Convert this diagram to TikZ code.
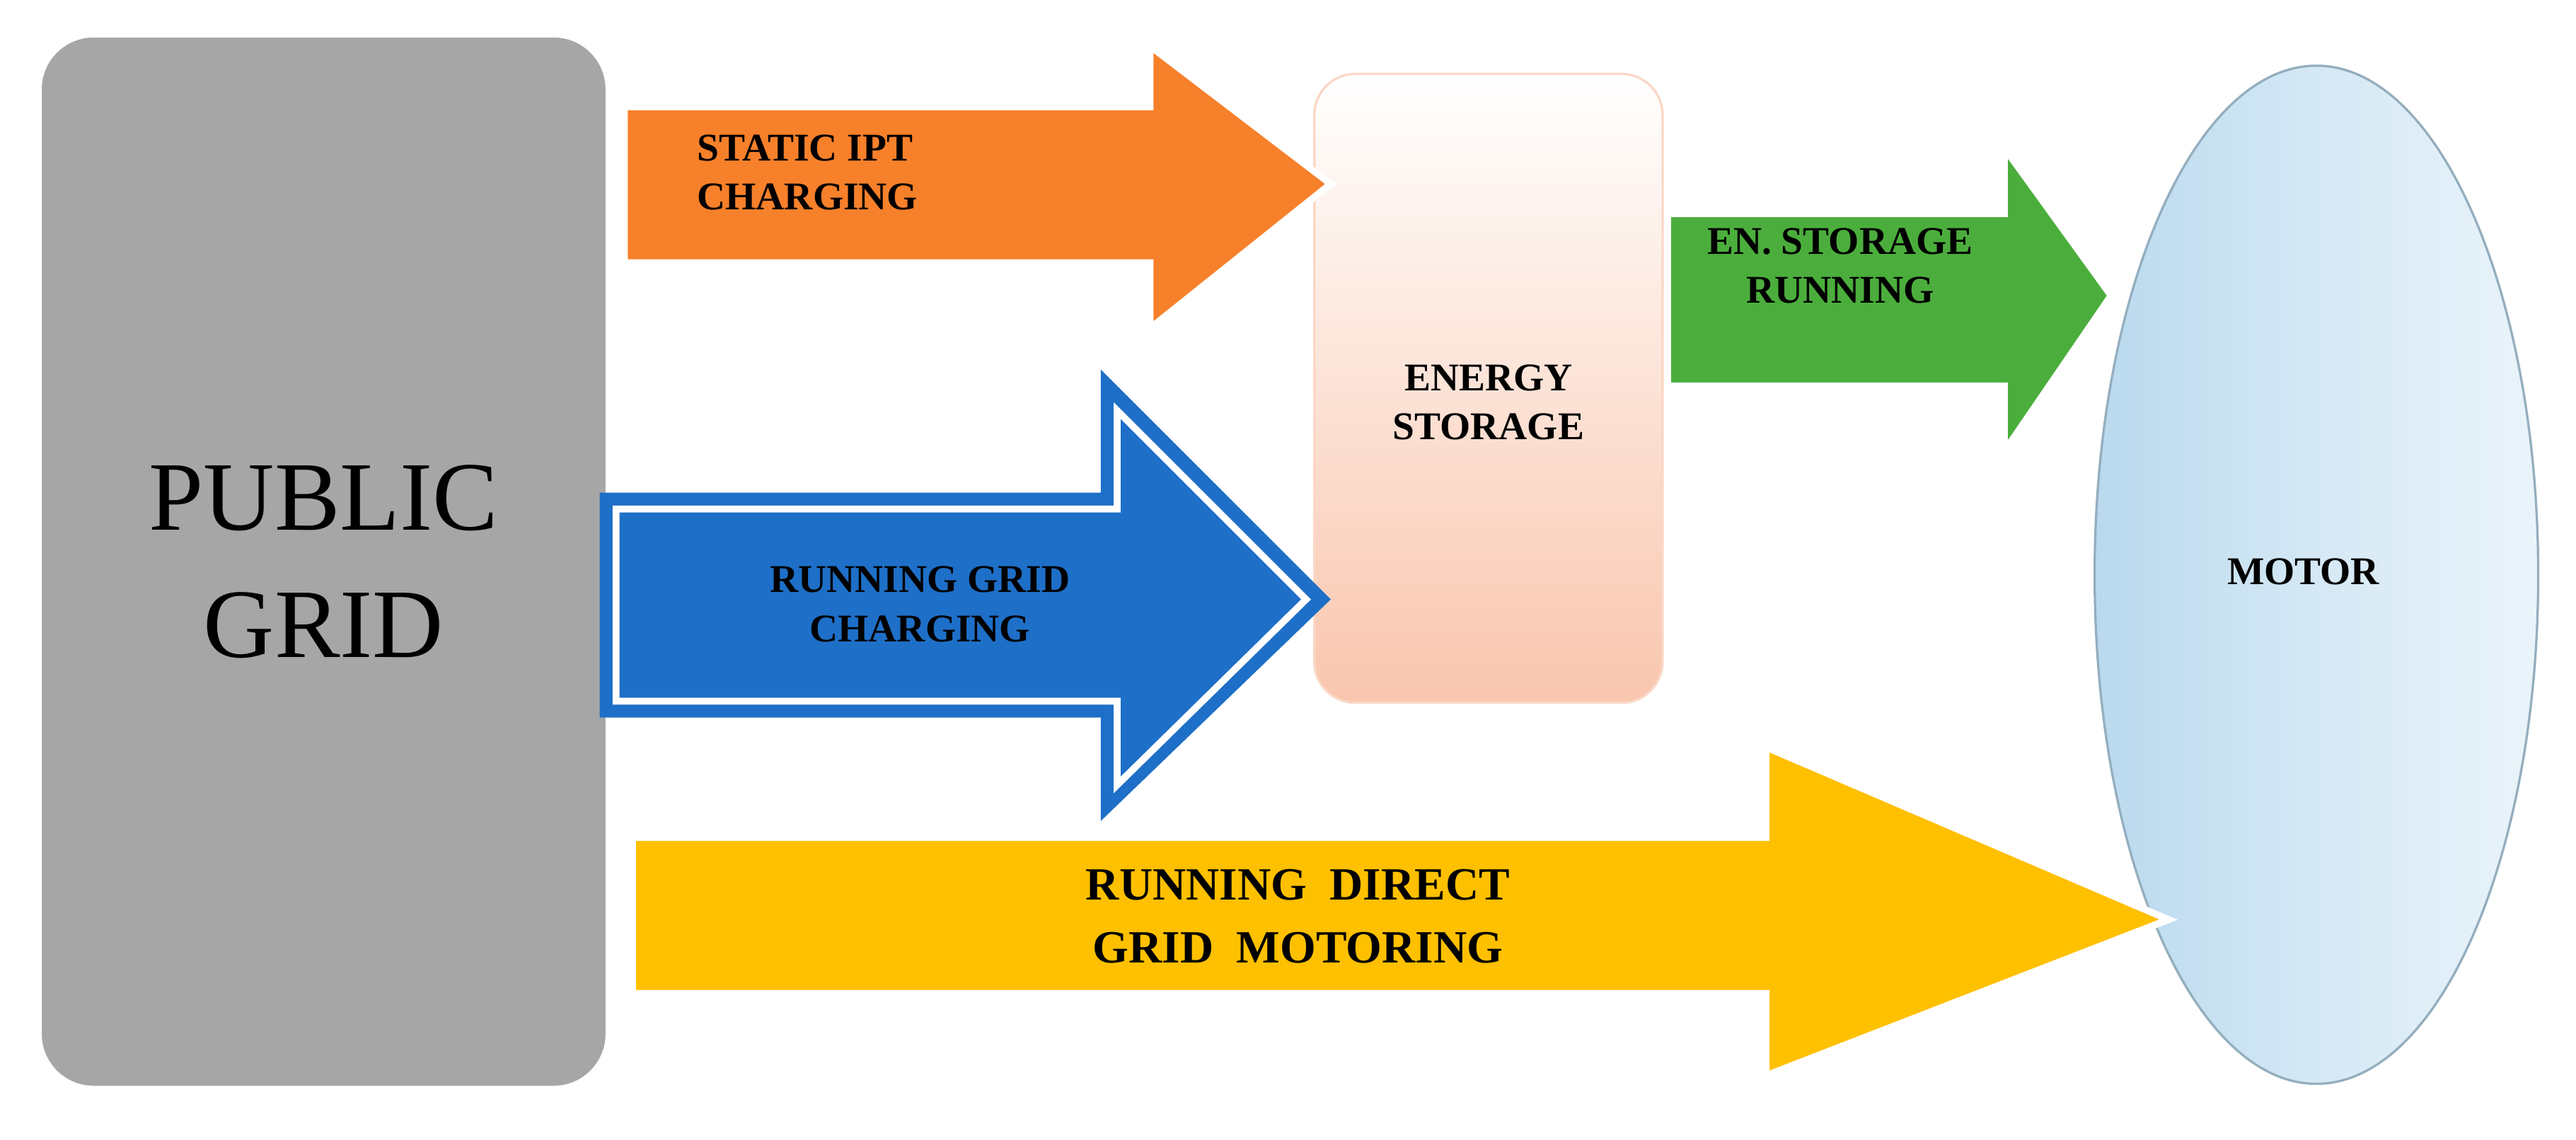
\documentclass[tikz,border=0pt]{standalone}
\usepackage{fontspec}
\setmainfont{Liberation Serif}
\definecolor{cOr}{HTML}{F7802A}
\definecolor{cBl}{HTML}{1E6FC8}
\definecolor{cGr}{HTML}{4BAE3C}
\definecolor{cYe}{HTML}{FFC000}
\definecolor{cMo}{HTML}{B9D9EE}
\definecolor{cEs}{HTML}{F9C6AE}
\begin{document}
\begin{tikzpicture}[x=0.01cm,y=-0.01cm,
  lbl/.style={font=\bfseries\fontsize{6.8pt}{8.5pt}\selectfont,align=left},
  arr/.style={draw=white,line width=1.2pt,line join=miter}]
\useasboundingbox (0,0) rectangle (1568,694);
% Public grid
\node[draw=white,line width=2pt,fill=gray!70,rounded corners=0.35cm,minimum width=3.5cm,minimum height=6.45cm,
  font=\fontsize{17pt}{22pt}\selectfont,align=center] (grid) at (197,342) {PUBLIC\\GRID};
% Energy storage
\shade[top color=white,bottom color=cEs,rounded corners=0.25cm,draw=cEs!70] (800,45) rectangle (1012,428);
\node[lbl,align=center] (es) at (906,245) {ENERGY\\STORAGE};
% Motor
\shade[left color=cMo,right color=cMo!30,middle color=cMo!60,draw=cMo!80!black] (1410,350) ellipse [x radius=135,y radius=310];
\node[lbl] (motor) at (1402,348) {MOTOR};
% Orange arrow
\fill[arr,fill=cOr] (380,65) -- (700,65) -- (700,28) -- (810,112) -- (700,200) -- (700,160) -- (380,160) -- cycle;
\node[lbl,anchor=west] (o) at (412,105) {STATIC IPT\\CHARGING};
% Blue arrow
\fill[fill=cBl] (365,300) -- (670,300) -- (670,225) -- (810,365) -- (670,500) -- (670,437) -- (365,437) -- cycle;
\draw[white,line width=1.2pt] (375,310) -- (680,310) -- (680,250) -- (795,365) -- (680,478) -- (680,427) -- (375,427) -- cycle;
\node[lbl,align=center] (b) at (560,368) {RUNNING GRID\\CHARGING};
% Green arrow
\fill[arr,fill=cGr] (1015,130) -- (1220,130) -- (1220,90) -- (1285,180) -- (1220,275) -- (1220,235) -- (1015,235) -- cycle;
\node[lbl,align=center] (g) at (1120,162) {EN. STORAGE\\RUNNING};
% Yellow arrow
\fill[arr,fill=cYe] (385,510) -- (1075,510) -- (1075,455) -- (1320,560) -- (1075,655) -- (1075,605) -- (385,605) -- cycle;
\node[lbl,align=center,font=\bfseries\fontsize{8pt}{11pt}\selectfont] (y) at (790,558) {RUNNING~~DIRECT\\GRID~~MOTORING};
\end{tikzpicture}
\end{document}
